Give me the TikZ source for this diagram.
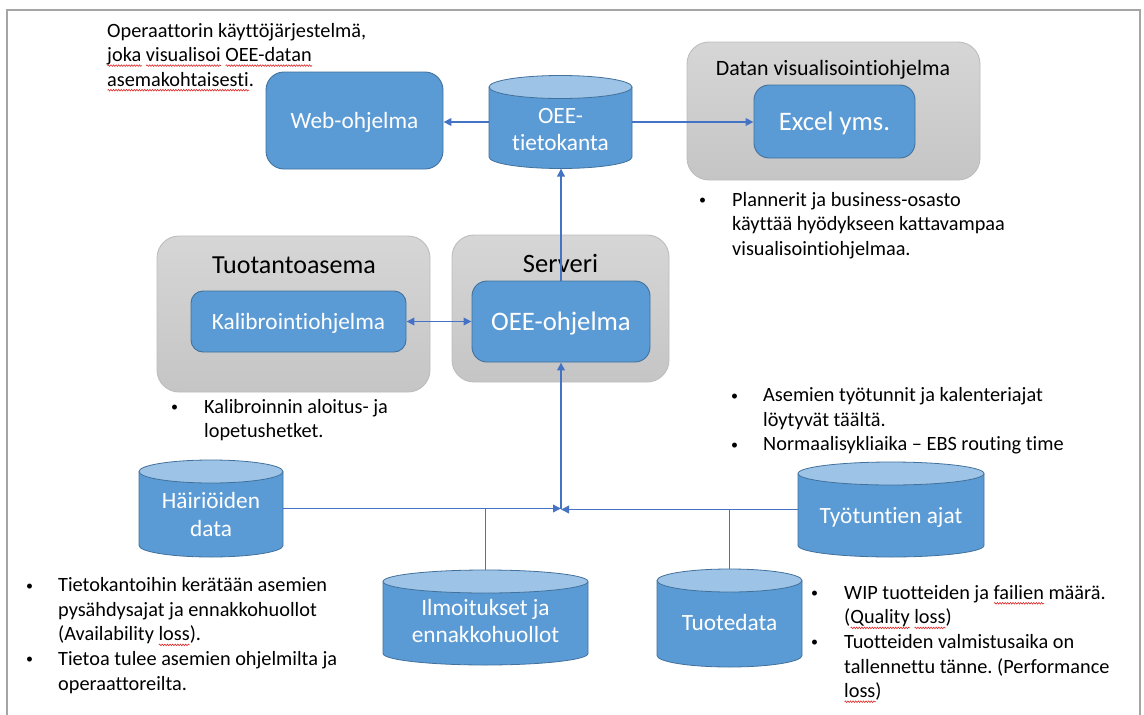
\documentclass[tikz,border=0pt]{standalone}
\usepackage{fontspec}
\setmainfont{Carlito}[Ligatures={NoCommon}]
\usetikzlibrary{arrows.meta,calc,decorations.pathmorphing}
\frenchspacing

\definecolor{boxblue}{HTML}{5B9BD5}
\definecolor{boxedge}{HTML}{41719C}
\definecolor{dbtopblue}{HTML}{9DC3E6}
\definecolor{linkblue}{HTML}{4472C4}
\definecolor{grptop}{HTML}{D6D6D6}
\definecolor{grpbot}{HTML}{C5C5C5}
\definecolor{grpline}{HTML}{BDBDBD}
\definecolor{framegray}{HTML}{A5A5A5}
\definecolor{spellred}{HTML}{E02828}

\newcommand\setfs[2]{\fontsize{#1pt}{#2pt}\selectfont}
\newcommand\linesl[1]{\begin{tabular}[t]{@{}l@{}}#1\end{tabular}}
\newcommand\linesc[1]{\begin{tabular}[t]{@{}c@{}}#1\end{tabular}}
\newcommand\bullist[2]{\begin{tabular}[t]{@{}p{#1}@{}l@{}}#2\end{tabular}}
% small list bullet, centred on the x-height
\newcommand\bul{\raisebox{1.6pt}{\fontsize{14pt}{14pt}\selectfont\textbullet}}

% red wavy spell-check mark under a word
\newsavebox\spellbox
\newlength\spellwd
\newcommand\spell[1]{\sbox\spellbox{#1}\setlength\spellwd{\wd\spellbox}%
  \rlap{\tikz[baseline=0pt]\draw[spellmark] (0pt,-4pt) -- (\spellwd,-4pt);}\usebox\spellbox}

\tikzset{
  spellmark/.style={draw=spellred, line width=0.6pt, decorate,
    decoration={snake, amplitude=0.8pt, segment length=2.6pt}},
  bluebox/.style={rectangle, rounded corners=#1, fill=boxblue, draw=boxedge,
    line width=0.9pt, text=white, inner sep=0pt, text depth=0pt},
  group/.style={rectangle, rounded corners=22pt, top color=grptop, bottom color=grpbot,
    draw=grpline, line width=0.9pt, inner sep=0pt},
  grouptitle/.style={anchor=base, inner sep=0pt, text=black},
  note/.style={anchor=base west, inner sep=0pt, text=black, font=\setfs{20.3}{24.6}},
  dbframe/.style={rectangle, draw=none, inner sep=0pt, outer sep=0pt},
  dbbody/.style={fill=boxblue, draw=boxedge, line width=0.8pt},
  dbcap/.style={fill=dbtopblue, draw=boxedge, line width=0.8pt},
  dblabel/.style={anchor=base, inner sep=0pt, text=white, font=\setfs{23.3}{27.5}},
  conn/.style={draw=linkblue, line width=1.8pt},
  arrowend/.style={-{Triangle[length=8pt,width=7.5pt]}},
  arrowboth/.style={{Triangle[length=8pt,width=7.5pt]}-{Triangle[length=8pt,width=7.5pt]}},
}

\newcommand\dbry{11.5pt}
% database cylinder: name, x, y (body centre), width, body height, label baseline offset, label
\newcommand\dbcyl[7]{%
  \node[dbframe, minimum width=#4pt, minimum height=#5pt] (#1) at (#2,#3) {};
  \filldraw[dbbody] (#1.north west) -- (#1.south west)
     arc[start angle=180, end angle=360, x radius={#4pt/2}, y radius=\dbry]
     -- (#1.north east);
  \filldraw[dbcap] (#1.north) ellipse[x radius={#4pt/2}, y radius=\dbry];
  \coordinate (#1-top) at ([yshift=\dbry]#1.north);
  \coordinate (#1-bot) at ([yshift=-\dbry]#1.south);
  \node[dblabel] (#1-text) at ($(#1.center)+(0,#6)$) {\linesc{#7}};
}

\begin{document}
\begin{tikzpicture}[x=1pt,y=-1pt]
\useasboundingbox (0,0) rectangle (1144,715);
\fill[white] (0,0) rectangle (1144,715);

% outer frame
\draw[framegray, line width=1.8pt] (7,716) -- (7,10) -- (1140,10) -- (1140,716);

% grouping panels
\node[group, minimum width=293pt, minimum height=138pt] (vis) at (833.5,111) {};
\node[grouptitle, font=\setfs{21.9}{26}] (vis-title) at (833,75) {Datan visualisointiohjelma};
\node[group, minimum width=273pt, minimum height=156pt] (station) at (293.5,314) {};
\node[grouptitle, font=\setfs{26}{30}] (station-title) at (294,273) {Tuotantoasema};
\node[group, minimum width=217pt, minimum height=147pt] (server) at (560.5,308.5) {};
\node[grouptitle, font=\setfs{26.5}{30}] (server-title) at (560.5,272.5) {Serveri};

% program boxes
\node[bluebox=18pt, minimum width=177pt, minimum height=97pt, font=\setfs{23.3}{27}, text height=15pt]
  (web) at (354.5,120.5) {Web-ohjelma};
\node[bluebox=15pt, minimum width=161pt, minimum height=73pt, font=\setfs{26.7}{30}, text height=17.2pt]
  (excel) at (834.5,121.5) {Excel yms.};
\node[bluebox=12pt, minimum width=215pt, minimum height=61pt, font=\setfs{23.3}{27}, text height=15pt]
  (kalib) at (298.5,321.5) {Kalibrointiohjelma};
\node[bluebox=15pt, minimum width=178pt, minimum height=81pt, font=\setfs{26.7}{30}, text height=17.2pt]
  (oeeprog) at (561,321.5) {OEE-ohjelma};

% databases
\dbcyl{oeedb}{560.5}{122}{143}{70}{1.3}{OEE-\\tietokanta}
\dbcyl{hairio}{211}{508.5}{144}{74}{0}{Häiriöiden\\data}
\dbcyl{tyo}{891}{509.5}{186}{72}{14}{Työtuntien ajat}
\dbcyl{ilmo}{485.5}{617.5}{205}{72}{-2.5}{Ilmoitukset ja\\ennakkohuollot}
\dbcyl{tuote}{729.5}{618}{145}{75}{12.7}{Tuotedata}

% connectors
\draw[conn, arrowend] (oeedb.west) -- (oeedb.west -| web.east);
\draw[conn, arrowend] (oeedb.east) -- (oeedb.east -| excel.west);
\draw[conn, arrowend] (oeeprog.north) -- (oeeprog.north |- oeedb-bot);
\draw[conn, arrowboth] (kalib.east) -- (oeeprog.west);
\coordinate (hub) at (oeeprog.south |- hairio.east);
\draw[conn, arrowend] (hairio.east) -- (hub);
\draw[conn, arrowend] (tyo.west) -- (tyo.west -| hub);
\draw[conn, arrowend] (hub) -- (oeeprog.south);
\draw[conn] (ilmo-top) -- (ilmo-top |- hairio.east);
\draw[conn] (tuote-top) -- (tuote-top |- tyo.west);

% annotations
\node[note] (webnote) at (107,37) {\linesl{Operaattorin käyttöjärjestelmä,\\
  \spell{joka} \spell{visualisoi} \spell{OEE-datan}\\ \spell{asemakohtaisesti}.}};
\node[note] (visnote) at (699,206) {\bullist{33pt}{\bul & Plannerit ja business-osasto\\
  & käyttää hyödykseen kattavampaa\\ & visualisointiohjelmaa.}};
\node[note] (kalibnote) at (171,413) {\bullist{33pt}{\bul & Kalibroinnin aloitus- ja\\
  & lopetushetket.}};
\node[note] (tyonote) at (731,401.7) {\bullist{32pt}{\bul & Asemien työtunnit ja kalenteriajat\\
  & löytyvät täältä.\\ \bul & Normaalisykliaika – EBS routing time}};
\node[note] (hairionote) at (26,591.7) {\bullist{32pt}{\bul & Tietokantoihin kerätään asemien\\
  & pysähdysajat ja ennakkohuollot\\ & (Availability \spell{loss}).\\
  \bul & Tietoa tulee asemien ohjelmilta ja\\ & operaattoreilta.}};
\node[note] (tuotenote) at (811,599.3) {\bullist{33pt}{\bul & WIP tuotteiden ja \spell{failien} määrä.\\
  & (\spell{Quality} \spell{loss})\\ \bul & Tuotteiden valmistusaika on\\
  & tallennettu tänne. (Performance\\ & \spell{loss})}};
\end{tikzpicture}
\end{document}
